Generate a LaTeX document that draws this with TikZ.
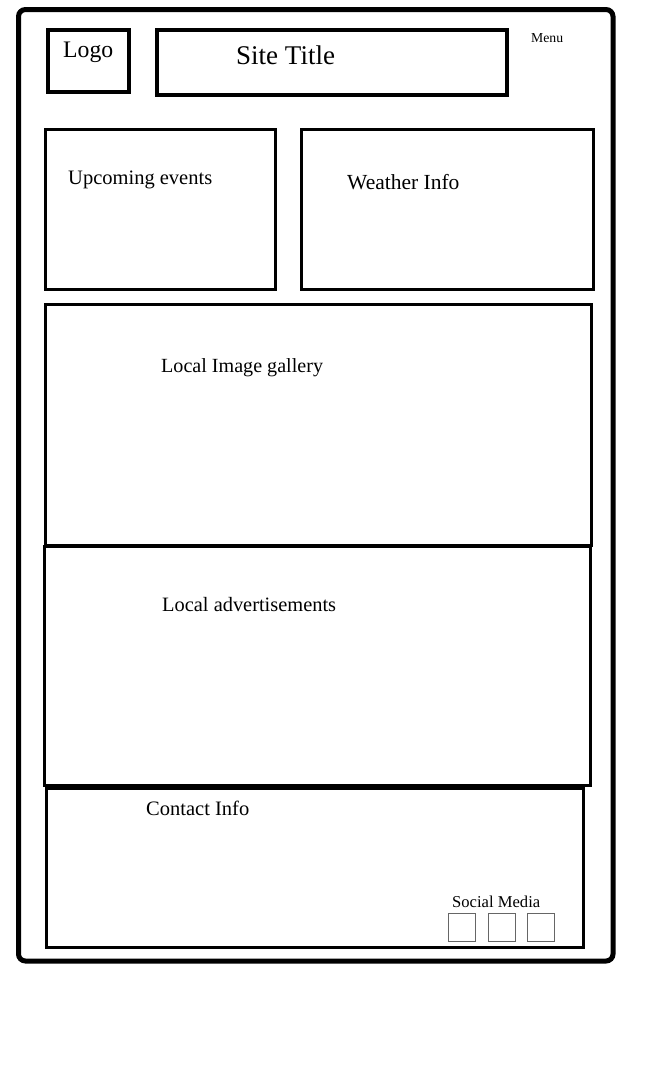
\documentclass[tikz,border=0pt]{standalone}
\usepackage{fontspec}
\setmainfont{Liberation Serif}
\begin{document}
\begin{tikzpicture}[x=1pt,y=-1pt,
  box/.style={draw=black, line width=#1, anchor=north west, inner sep=0pt, fill=none},
  box/.default=3pt,
  lbl/.style={anchor=base west, inner sep=0pt, font=\fontsize{#1}{#1}\selectfont},
  sbox/.style={draw=black!60, line width=1pt, anchor=north west, inner sep=0pt, minimum width=27pt, minimum height=28pt}]
\useasboundingbox (0,0) rectangle (650,1080);
\draw[line width=5pt, rounded corners=7pt] (18.5,9.5) rectangle (613,961);
% header
\node[box=4pt, minimum width=81pt, minimum height=62pt] (logo) at (46,28) {};
\node[box=4pt, minimum width=350pt, minimum height=65pt] (title) at (155,28) {};
\node[lbl=23.7] (logot) at (63,57) {Logo};
\node[lbl=27] (titlet) at (236,64) {Site Title};
\node[lbl=13.7] (menu) at (531,42) {Menu};
% second row
\node[box, minimum width=230pt, minimum height=160pt] (events) at (44,128) {};
\node[box, minimum width=292pt, minimum height=160pt] (weather) at (300,128) {};
\node[lbl=20.5] (eventst) at (68,184) {Upcoming events};
\node[lbl=21.5] (weathert) at (347,189) {Weather Info};
% gallery
\node[box, minimum width=546pt, minimum height=241pt] (gallery) at (44,303) {};
\node[lbl=20.1] (galleryt) at (161,372) {Local Image gallery};
% ads
\node[box, minimum width=546pt, minimum height=239pt] (ads) at (43,545) {};
\node[lbl=20.4] (adst) at (162,611) {Local advertisements};
% contact
\node[box, minimum width=537pt, minimum height=159pt] (contact) at (45,787) {};
\node[lbl=20.5] (contactt) at (146,815) {Contact Info};
\node[lbl=16.6] (socialt) at (452,907) {Social Media};
\node[sbox] (s1) at (448,912.5) {};
\node[sbox] (s2) at (487.5,912.5) {};
\node[sbox] (s3) at (527,912.5) {};
\end{tikzpicture}
\end{document}
